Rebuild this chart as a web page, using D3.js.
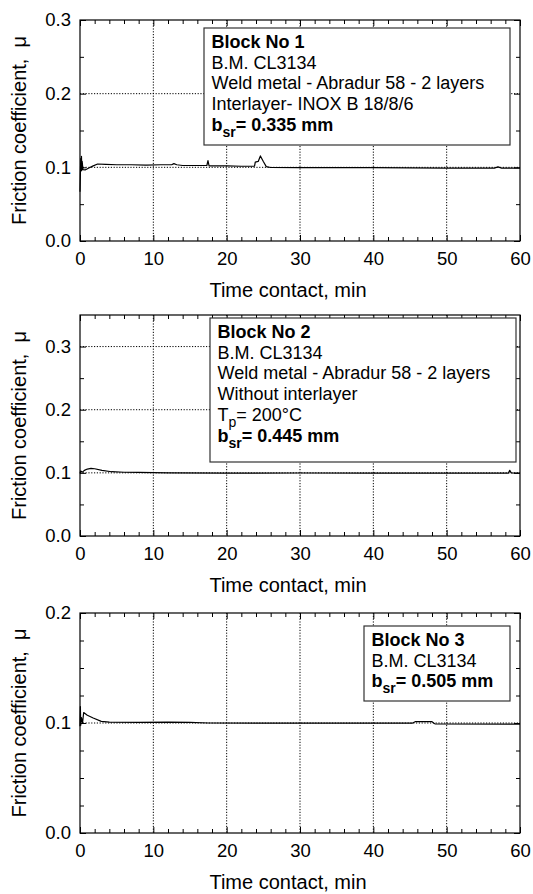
<!DOCTYPE html>
<html>
<head>
<meta charset="utf-8">
<script src="https://cdn.jsdelivr.net/npm/d3@7"></script>
<style>
  html, body { margin: 0; padding: 0; background: #fff; }
  svg text { font-family: "Liberation Sans", Arial, sans-serif; fill: #000; }
</style>
</head>
<body>
<svg id="chart" width="533" height="894"></svg>
<script>
// ---------------- DATA ----------------
const xTicks = [0, 10, 20, 30, 40, 50, 60];
const xMinorStep = 2;

const block1Data = [
  [0, 0.067], [0.05, 0.090], [0.1, 0.112], [0.15, 0.095], [0.2, 0.115], [0.25, 0.096],
  [0.3, 0.108], [0.4, 0.097], [0.7, 0.0965], [1.2, 0.099], [1.8, 0.102], [2.4, 0.1045],
  [3.5, 0.104], [5, 0.1035], [7, 0.1035], [9, 0.103], [11, 0.1035], [12.5, 0.1035],
  [12.8, 0.105], [13.2, 0.1035], [14, 0.1025], [16, 0.1025], [17.3, 0.1025], [17.45, 0.109],
  [17.6, 0.102], [20, 0.102], [22, 0.1015], [23.8, 0.1015], [23.9, 0.107], [24.3, 0.108],
  [24.6, 0.1155], [25.0, 0.108], [25.4, 0.101], [26, 0.0998], [30, 0.0995], [40, 0.0995],
  [50, 0.099], [56.5, 0.099], [57, 0.1007], [57.5, 0.099], [60, 0.099]
];
const block2Data = [
  [0, 0.099], [0.1, 0.103], [0.3, 0.101], [0.6, 0.104], [1.0, 0.106], [1.5, 0.107],
  [2.0, 0.1065], [3, 0.104], [4.3, 0.1018], [6, 0.101], [8, 0.1008], [10, 0.1005],
  [12, 0.1], [20, 0.0995], [30, 0.0998], [40, 0.0995], [50, 0.0997], [58.4, 0.0995],
  [58.6, 0.104], [58.8, 0.1], [60, 0.0995]
];
const block3Data = [
  [0, 0.097], [0.05, 0.115], [0.1, 0.098], [0.2, 0.105], [0.35, 0.100], [0.5, 0.1095],
  [1.0, 0.107], [1.8, 0.1045], [2.9, 0.1015], [4, 0.1008], [8, 0.1006], [12, 0.1008],
  [15, 0.1005], [17.5, 0.1], [30, 0.0998], [40, 0.0998], [45.3, 0.0998], [45.7, 0.1012],
  [48, 0.1012], [48.4, 0.0992], [60, 0.099]
];

const yTicks1 = [0, 0.1, 0.2, 0.3];
const yTicks2 = [0, 0.1, 0.2, 0.3];
const yTicks3 = [0, 0.1, 0.2];
const yMax = [0.3, 0.35, 0.2];
const yMinorStep = [0.05, 0.05, 0.025];

// legend lines: arrays of [text, bold, subscript]
const legend1 = [
  [["Block No 1", true]],
  [["B.M. CL3134", false]],
  [["Weld metal - Abradur 58 - 2 layers", false]],
  [["Interlayer- INOX B 18/8/6", false]],
  [["b", true], ["sr", true, "sub"], ["= 0.335 mm", true]]
];
const legend2 = [
  [["Block No 2", true]],
  [["B.M. CL3134", false]],
  [["Weld metal - Abradur 58 - 2 layers", false]],
  [["Without interlayer", false]],
  [["T", false], ["p", false, "sub"], ["= 200°C", false]],
  [["b", true], ["sr", true, "sub"], ["= 0.445 mm", true]]
];
const legend3 = [
  [["Block No 3", true]],
  [["B.M. CL3134", false]],
  [["b", true], ["sr", true, "sub"], ["= 0.505 mm", true]]
];

const xTitle = "Time contact, min";
const yTitle = "Friction coefficient,  \u03bc";

// ---------------- LAYOUT ----------------
const panels = [
  { data: block1Data, yTicks: yTicks1, yMax: yMax[0], minor: yMinorStep[0], legend: legend1,
    top: 20, bottom: 241, box: { x: 204, y: 28, w: 306, h: 117 } },
  { data: block2Data, yTicks: yTicks2, yMax: yMax[1], minor: yMinorStep[1], legend: legend2,
    top: 315, bottom: 536, box: { x: 210, y: 318, w: 306, h: 144 } },
  { data: block3Data, yTicks: yTicks3, yMax: yMax[2], minor: yMinorStep[2], legend: legend3,
    top: 613, bottom: 833, box: { x: 364, y: 626, w: 146, h: 75 } }
];
const left = 80, right = 520;

const svg = d3.select("#chart");
svg.append("rect").attr("width", 533).attr("height", 894).attr("fill", "#fff");

panels.forEach((p) => {
  const x = d3.scaleLinear().domain([0, 60]).range([left, right]);
  const y = d3.scaleLinear().domain([0, p.yMax]).range([p.bottom, p.top]);
  const g = svg.append("g");

  const xMinor = d3.range(0, 60.001, xMinorStep).filter(v => v % 10 !== 0);
  const yMinor = d3.range(0, p.yMax + 1e-9, p.minor)
    .filter(v => !p.yTicks.some(t => Math.abs(t - v) < 1e-9) && v > 1e-9 && v < p.yMax - 1e-9);

  // grid lines
  const grid = g.append("g").attr("stroke", "#000").attr("stroke-width", 1)
    .attr("stroke-dasharray", "1.2,1.6").attr("fill", "none");
  xTicks.filter(v => v > 0 && v < 60).forEach(v => {
    grid.append("line").attr("x1", x(v)).attr("x2", x(v)).attr("y1", p.top).attr("y2", p.bottom);
  });
  p.yTicks.filter(v => v > 0 && v < p.yMax).forEach(v => {
    grid.append("line").attr("x1", left).attr("x2", right).attr("y1", y(v)).attr("y2", y(v));
  });

  // axes (bottom/left with labels; top/right mirrored ticks)
  const fmtY = d3.format(".1f");
  const axB = g.append("g").attr("transform", `translate(0,${p.bottom})`)
    .call(d3.axisBottom(x).tickValues(xTicks).tickSize(-6).tickPadding(11).tickFormat(d3.format("d")));
  const axBm = g.append("g").attr("transform", `translate(0,${p.bottom})`)
    .call(d3.axisBottom(x).tickValues(xMinor).tickSize(-4).tickFormat(""));
  const axT = g.append("g").attr("transform", `translate(0,${p.top})`)
    .call(d3.axisTop(x).tickValues(xTicks).tickSize(-6).tickFormat(""));
  const axTm = g.append("g").attr("transform", `translate(0,${p.top})`)
    .call(d3.axisTop(x).tickValues(xMinor).tickSize(-4).tickFormat(""));
  const axL = g.append("g").attr("transform", `translate(${left},0)`)
    .call(d3.axisLeft(y).tickValues(p.yTicks).tickSize(-6).tickPadding(9).tickFormat(fmtY));
  const axLm = g.append("g").attr("transform", `translate(${left},0)`)
    .call(d3.axisLeft(y).tickValues(yMinor).tickSize(-4).tickFormat(""));
  const axR = g.append("g").attr("transform", `translate(${right},0)`)
    .call(d3.axisRight(y).tickValues(p.yTicks).tickSize(-6).tickFormat(""));
  const axRm = g.append("g").attr("transform", `translate(${right},0)`)
    .call(d3.axisRight(y).tickValues(yMinor).tickSize(-4).tickFormat(""));

  [axB, axBm, axT, axTm, axL, axLm, axR, axRm].forEach(a => {
    a.select(".domain").remove();
    a.selectAll(".tick line").attr("stroke", "#000").attr("stroke-width", 1);
    a.selectAll("text").attr("font-size", 18.5).attr("font-family", "Liberation Sans, Arial, sans-serif").attr("fill", "#000");
  });

  // frame
  g.append("rect").attr("x", left).attr("y", p.top).attr("width", right - left).attr("height", p.bottom - p.top)
    .attr("fill", "none").attr("stroke", "#000").attr("stroke-width", 1.2);

  // curve
  const line = d3.line().x(d => x(d[0])).y(d => y(d[1]));
  g.append("path").datum(p.data).attr("d", line).attr("fill", "none")
    .attr("stroke", "#000").attr("stroke-width", 1.2).attr("stroke-linejoin", "round");

  // legend box
  const b = p.box;
  g.append("rect").attr("x", b.x).attr("y", b.y).attr("width", b.w).attr("height", b.h)
    .attr("fill", "#fff").attr("stroke", "#333").attr("stroke-width", 1.2);
  p.legend.forEach((ln, i) => {
    const t = g.append("text").attr("x", b.x + 7.5).attr("y", b.y + 20 + i * 20.7)
      .attr("font-size", 18).attr("xml:space", "preserve");
    let prevSub = false;
    ln.forEach(seg => {
      const ts = t.append("tspan").text(seg[0]).attr("font-weight", seg[1] ? "bold" : "normal");
      if (seg[2] === "sub") { ts.attr("font-size", 14).attr("dy", 6); prevSub = true; }
      else if (prevSub) { ts.attr("dy", -6); prevSub = false; }
    });
  });

  // axis titles
  g.append("text").attr("x", 288).attr("y", p.bottom + 56).attr("text-anchor", "middle")
    .attr("font-size", 20).text(xTitle);
  g.append("text").attr("transform", `translate(26,${(p.top + p.bottom) / 2}) rotate(-90)`)
    .attr("text-anchor", "middle").attr("font-size", 20).style("white-space", "pre").text(yTitle);
});
</script>
</body>
</html>
